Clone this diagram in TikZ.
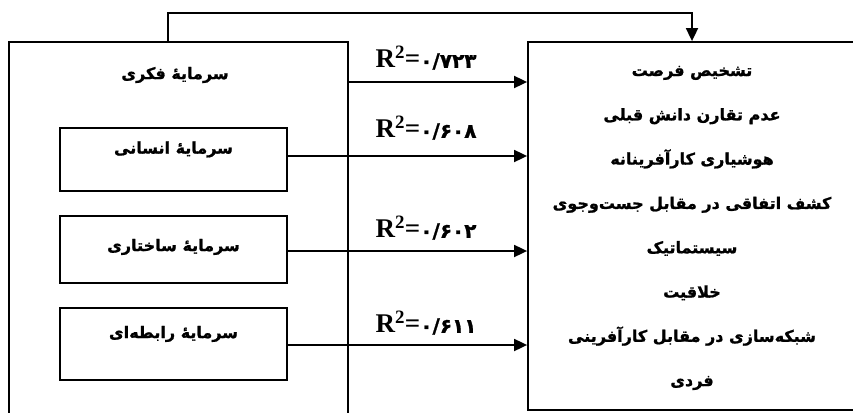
\documentclass[tikz,border=0pt]{standalone}
\usepackage{fontspec}
\setmainfont{Liberation Serif}
\newfontfamily\persianfont[Script=Arabic,BoldFeatures={FakeBold=1.2}]{DejaVu Sans}
\TeXXeTstate=1
\usetikzlibrary{positioning,arrows.meta}
\newcommand{\fa}[1]{\beginR #1\endR}
\newcommand{\rlabel}[1]{{\fontsize{27}{27}\selectfont\bfseries R\textsuperscript{2}=}{\persianfont\bfseries\fontsize{20}{20}\selectfont #1}}
\tikzset{
  box/.style={draw=black,line width=1.8pt,inner sep=0pt},
  fatext/.style={font=\persianfont\bfseries\fontsize{16}{44.3}\selectfont},
  arr/.style={line width=1.8pt,-{Triangle[length=13pt,width=12pt]}}
}
\begin{document}
\begin{tikzpicture}[x=1pt,y=-1pt]
\useasboundingbox (0,0) rectangle (853,412);
\node[box,minimum width=339pt,minimum height=398pt] (fikri) at (178.5,241) {};
\node[box,minimum width=328pt,minimum height=368pt] (forsat) at (692,226) {};
\node[fatext] (fikriTitle) at (175,75) {\fa{سرمایهٔ فکری}};
\node[box,fatext,text depth=24pt,minimum width=227pt,minimum height=63pt] (ensani) at (173.5,159.5) {\fa{سرمایهٔ انسانی}};
\node[box,fatext,text depth=9pt,minimum width=227pt,minimum height=67pt] (sakhtari) at (173.5,249.5) {\fa{سرمایهٔ ساختاری}};
\node[box,fatext,text depth=24pt,minimum width=227pt,minimum height=72pt] (rabete) at (173.5,344) {\fa{سرمایهٔ رابطه‌ای}};
\node[fatext,align=center] (items) at (692,228) {\fa{تشخیص فرصت}\\\fa{عدم تقارن دانش قبلی}\\\fa{هوشیاری کارآفرینانه}\\\fa{کشف اتفاقی در مقابل جست‌وجوی}\\\fa{سیستماتیک}\\\fa{خلاقیت}\\\fa{شبکه‌سازی در مقابل کارآفرینی}\\\fa{فردی}};
% ضرایب تعیین
\node (r1) at (426,58) {\rlabel{۰/۷۲۳}};
\node (r2) at (426,128) {\rlabel{۰/۶۰۸}};
\node (r3) at (426,228) {\rlabel{۰/۶۰۲}};
\node (r4) at (426,323) {\rlabel{۰/۶۱۱}};
\draw[arr] (fikri.east |- 0,82) -- (forsat.west |- 0,82);
\draw[arr] (ensani.east |- 0,156) -- (forsat.west |- 0,156);
\draw[arr] (sakhtari.east |- 0,251) -- (forsat.west |- 0,251);
\draw[arr] (rabete.east |- 0,345) -- (forsat.west |- 0,345);
\draw[arr] (fikri.north -| 168,0) -- (168,13) -| (forsat.north);
\end{tikzpicture}
\end{document}
